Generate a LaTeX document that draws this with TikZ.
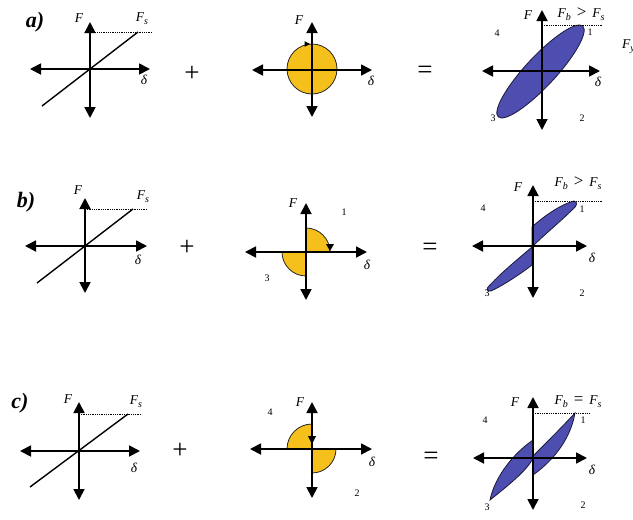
\documentclass[tikz,border=0pt]{standalone}
\usepackage{fontspec}
\setmainfont{Liberation Serif}
\usetikzlibrary{arrows.meta}
\definecolor{yel}{RGB}{246,192,28}
\definecolor{blu}{RGB}{78,78,176}
\definecolor{edge}{RGB}{25,25,60}
\newcommand\lowsub[1]{\raisebox{-3.2pt}{\fontsize{10}{10}\selectfont #1}}
\newcommand\gtsym{\hspace{6pt}{\upshape\fontsize{17}{17}\selectfont >}\hspace{6pt}}
\newcommand\eqsym{\hspace{6pt}{\upshape\fontsize{17}{17}\selectfont =}\hspace{6pt}}
\begin{document}
\begin{tikzpicture}[x=1pt,y=-1pt,
  axis/.style={line width=1.8pt,{Triangle[length=11pt,width=11pt]}-{Triangle[length=11pt,width=11pt]}},
  spring/.style={line width=1.4pt},
  lim/.style={line width=0.7pt,dash pattern=on 0.9pt off 0.9pt},
  lbl/.style={font=\fontsize{13.5}{13.5}\selectfont\itshape,inner sep=0pt},
  num/.style={font=\fontsize{10}{10}\selectfont,inner sep=0pt},
  op/.style={font=\fontsize{27}{27}\selectfont,inner sep=0pt},
  tag/.style={font=\fontsize{22}{22}\selectfont\bfseries\itshape,inner sep=0pt},
  yfill/.style={fill=yel,draw=black!85,line width=0.8pt},
  bfill/.style={fill=blu,draw=edge,line width=0.8pt},
  tipm/.style={fill=black}]
\useasboundingbox (0,0) rectangle (633,520);

% ================= row a =================
\node[tag] (ta) at (35,22) {a)};
% a1
\coordinate (a1l) at (30,69); \coordinate (a1r) at (150,69);
\coordinate (a1t) at (90,22); \coordinate (a1b) at (90,118);
\coordinate (a1p) at (42,106); \coordinate (a1q) at (138,32);
\coordinate (a1s) at (90,32); \coordinate (a1e) at (152,32);
\draw[spring] (a1p) -- (a1q);
\draw[lim] (a1s) -- (a1e);
\draw[axis] (a1l) -- (a1r);
\draw[axis] (a1t) -- (a1b);
\node[lbl] (a1F) at (79,18) {F};
\node[lbl] (a1Fs) at (142,19) {F\lowsub{s}};
\node[lbl] (a1d) at (144,80) {δ};
\node[op] (pa) at (192,74) {+};
% a2
\coordinate (a2c) at (312,69);
\filldraw[yfill] (a2c) circle[radius=25];
\fill[tipm] (304.5,41.2) -- (310,44) -- (304.5,46.8) -- cycle;
\coordinate (a2l) at (252,70); \coordinate (a2r) at (372,70);
\coordinate (a2t) at (312,22); \coordinate (a2b) at (312,117);
\draw[axis] (a2l) -- (a2r);
\draw[axis] (a2t) -- (a2b);
\node[lbl] (a2F) at (299,20) {F};
\node[lbl] (a2d) at (371,81) {δ};
\node[op] (ea) at (425,72) {=};
% a3
\coordinate (a3c) at (540.5,71.5);
\filldraw[bfill,rotate around={47:(a3c)}] (a3c) ellipse (62 and 15);
\coordinate (a3l) at (482,71); \coordinate (a3r) at (600,71);
\coordinate (a3t) at (542,10); \coordinate (a3b) at (542,130);
\coordinate (a3s) at (542,25); \coordinate (a3e) at (602,25);
\draw[lim] (a3s) -- (a3e);
\draw[axis] (a3l) -- (a3r);
\draw[axis] (a3t) -- (a3b);
\node[lbl] (a3F) at (528,15) {F};
\node[lbl] (a3Fb) at (581,14) {F\lowsub{b}\gtsym F\lowsub{s}};
\node[lbl] (a3d) at (598,82) {δ};
\node[num] (a3n1) at (590,32) {1};
\node[num] (a3n2) at (582,118) {2};
\node[num] (a3n3) at (493,118) {3};
\node[num] (a3n4) at (497,33) {4};
\node[lbl,anchor=west] (a3Fy) at (622,47) {F\lowsub{y}};

% ================= row b =================
\node[tag] (tb) at (26,202) {b)};
% b1
\coordinate (b1l) at (25,246); \coordinate (b1r) at (147,246);
\coordinate (b1t) at (85,198); \coordinate (b1b) at (85,293);
\coordinate (b1p) at (37,283); \coordinate (b1q) at (133,209);
\coordinate (b1s) at (85,209); \coordinate (b1e) at (147,209);
\draw[spring] (b1p) -- (b1q);
\draw[lim] (b1s) -- (b1e);
\draw[axis] (b1l) -- (b1r);
\draw[axis] (b1t) -- (b1b);
\node[lbl] (b1F) at (78,190) {F};
\node[lbl] (b1Fs) at (143,197) {F\lowsub{s}};
\node[lbl] (b1d) at (138,260) {δ};
\node[op] (pb) at (187,248) {+};
% b2
\filldraw[yfill] (306,252) -- (306,228) arc[start angle=-90,end angle=0,radius=24] -- cycle;
\filldraw[yfill] (306,252) -- (282,252) arc[start angle=180,end angle=90,radius=24] -- cycle;
\fill[tipm] (326,244) -- (334,244) -- (330,251) -- cycle;
\coordinate (b2l) at (245,252); \coordinate (b2r) at (367,252);
\coordinate (b2t) at (306,203); \coordinate (b2b) at (306,300);
\draw[axis] (b2l) -- (b2r);
\draw[axis] (b2t) -- (b2b);
\node[lbl] (b2F) at (293,203) {F};
\node[lbl] (b2d) at (367,265) {δ};
\node[num] (b2n1) at (344,212) {1};
\node[num] (b2n3) at (267,278) {3};
\node[op] (eb) at (430,249) {=};
% b3
\filldraw[bfill] (532,247) -- (532,227) .. controls (545,215) and (562,204) .. (574,201) .. controls (578,202) and (577,206) .. (573,209) .. controls (560,222) and (545,234) .. (532,247) -- cycle;
\filldraw[bfill] (532,247) -- (532,265) .. controls (518,276) and (500,287) .. (491,291) .. controls (486,292) and (486,288) .. (490,285) .. controls (502,272) and (518,259) .. (532,247) -- cycle;
\coordinate (b3l) at (472,246); \coordinate (b3r) at (587,246);
\coordinate (b3t) at (533,185); \coordinate (b3b) at (533,298);
\coordinate (b3s) at (533,201); \coordinate (b3e) at (603,201);
\draw[lim] (b3s) -- (b3e);
\draw[axis] (b3l) -- (b3r);
\draw[axis] (b3t) -- (b3b);
\node[lbl] (b3F) at (518,187) {F};
\node[lbl] (b3Fb) at (578,183) {F\lowsub{b}\gtsym F\lowsub{s}};
\node[lbl] (b3d) at (592,258) {δ};
\node[num] (b3n1) at (582,209) {1};
\node[num] (b3n2) at (582,293) {2};
\node[num] (b3n3) at (487,293) {3};
\node[num] (b3n4) at (483,208) {4};

% ================= row c =================
\node[tag] (tc) at (20,403) {c)};
% c1
\coordinate (c1l) at (20,451); \coordinate (c1r) at (140,451);
\coordinate (c1t) at (79,402); \coordinate (c1b) at (79,500);
\coordinate (c1p) at (30,487); \coordinate (c1q) at (128,414);
\coordinate (c1s) at (79,414); \coordinate (c1e) at (142,414);
\draw[spring] (c1p) -- (c1q);
\draw[lim] (c1s) -- (c1e);
\draw[axis] (c1l) -- (c1r);
\draw[axis] (c1t) -- (c1b);
\node[lbl] (c1F) at (68,399) {F};
\node[lbl] (c1Fs) at (136,402) {F\lowsub{s}};
\node[lbl] (c1d) at (134,468) {δ};
\node[op] (pc) at (180,451) {+};
% c2
\filldraw[yfill] (312,449) -- (287,449) arc[start angle=180,end angle=270,radius=25] -- cycle;
\filldraw[yfill] (312,449) -- (336,449) arc[start angle=0,end angle=90,radius=24] -- cycle;
\coordinate (c2l) at (250,449); \coordinate (c2r) at (372,449);
\coordinate (c2t) at (312,402); \coordinate (c2b) at (312,498);
\draw[axis] (c2l) -- (c2r);
\draw[axis] (c2t) -- (c2b);
\fill[tipm] (308,436) -- (316,436) -- (312,444) -- cycle;
\node[lbl] (c2F) at (300,402) {F};
\node[lbl] (c2d) at (372,462) {δ};
\node[num] (c2n4) at (270,412) {4};
\node[num] (c2n2) at (357,493) {2};
\node[op] (ec) at (431,458) {=};
% c3
\filldraw[bfill] (533,456) -- (533,475) .. controls (550,463) and (570,442) .. (575,413) .. controls (562,427) and (547,442) .. (533,456) -- cycle;
\filldraw[bfill] (533,440) -- (533,458) .. controls (528,470) and (505,488) .. (490,500) .. controls (494,480) and (510,456) .. (533,440) -- cycle;
\coordinate (c3l) at (473,458); \coordinate (c3r) at (587,458);
\coordinate (c3t) at (533,397); \coordinate (c3b) at (533,510);
\coordinate (c3s) at (533,413); \coordinate (c3e) at (590,413);
\draw[lim] (c3s) -- (c3e);
\draw[axis] (c3l) -- (c3r);
\draw[axis] (c3t) -- (c3b);
\node[lbl] (c3F) at (515,402) {F};
\node[lbl] (c3Fb) at (578,402) {F\lowsub{b}\eqsym F\lowsub{s}};
\node[lbl] (c3d) at (592,470) {δ};
\node[num] (c3n1) at (583,420) {1};
\node[num] (c3n2) at (583,505) {2};
\node[num] (c3n3) at (487,507) {3};
\node[num] (c3n4) at (485,420) {4};
\end{tikzpicture}
\end{document}
